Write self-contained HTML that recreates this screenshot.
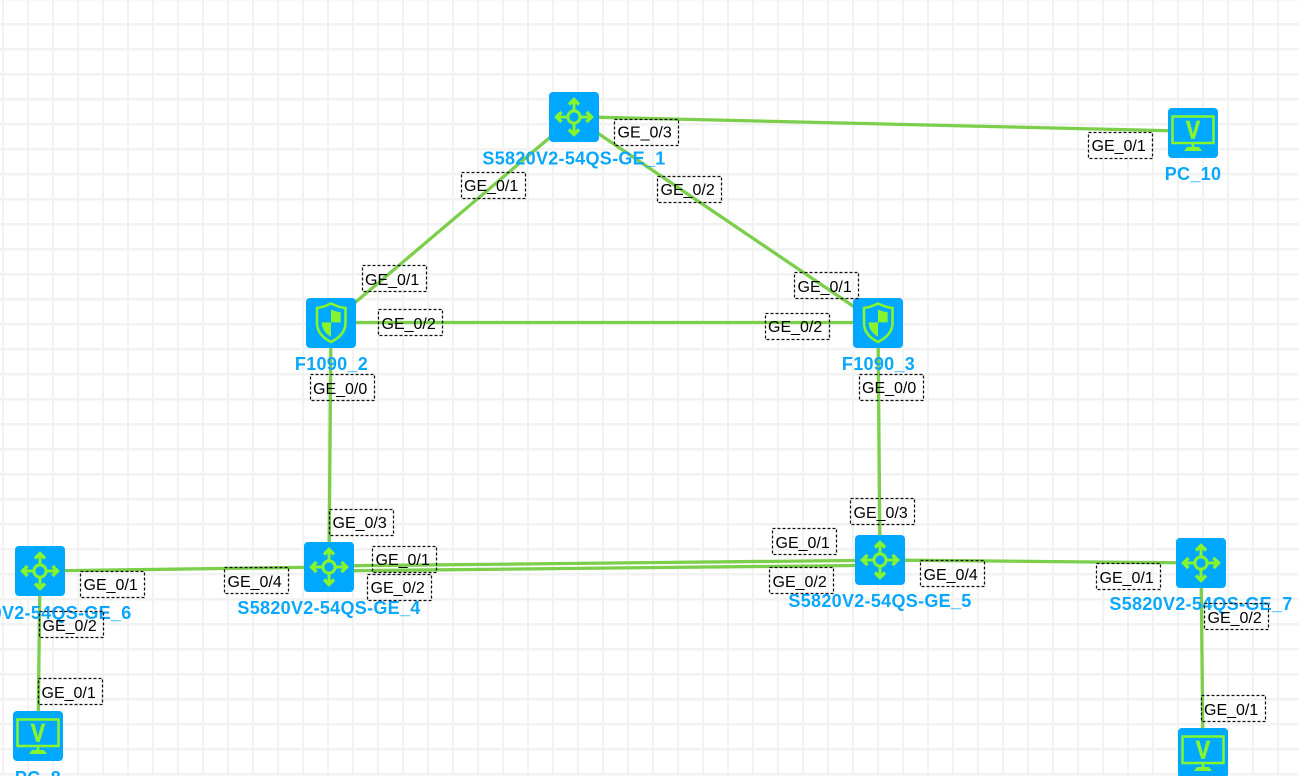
<!DOCTYPE html>
<html>
<head>
<meta charset="utf-8">
<style>
html,body{margin:0;padding:0;background:#fff;width:1299px;height:776px;overflow:hidden}
svg{display:block}
.l{stroke:#7ccf4a;stroke-width:3.3;fill:none}
.b{fill:none;stroke:#111;stroke-width:1.25;stroke-dasharray:3 2}
.t{font:16px "Liberation Sans",Arial,sans-serif;fill:#000}
.n{font:bold 18px "Liberation Sans",Arial,sans-serif;fill:#0aa7ff;letter-spacing:.3px;text-anchor:middle}
</style>
</head>
<body>
<svg width="1299" height="776" viewBox="0 0 1299 776" xmlns="http://www.w3.org/2000/svg">
<defs>
<pattern id="g" width="25" height="25" patternUnits="userSpaceOnUse">
<rect x="2" y="0" width="2" height="25" fill="#f2f2f2"/>
<rect x="0" y="23" width="25" height="2.6" fill="#f2f2f2"/>
<rect x="0" y="0" width="25" height=".6" fill="#f2f2f2"/>
</pattern>
<symbol id="sw" width="50" height="50" viewBox="0 0 50 50">
<rect width="50" height="50" rx="4" fill="#00a8ff"/>
<g fill="none" stroke="#86f52d" stroke-width="3">
<circle cx="25" cy="25" r="6.100"/>
<path d="M25 18V8M25 32V42M18 25H8M32 25H42"/>
<path stroke-width="3.400" stroke-linejoin="miter" d="M20 12.500L25 7.500L30 12.500M20 37.500L25 42.500L30 37.500M12.500 20L7.500 25L12.500 30M37.500 20L42.500 25L37.500 30"/>
</g>
</symbol>
<symbol id="fw" width="50" height="50" viewBox="0 0 50 50">
<rect width="50" height="50" rx="4" fill="#00a8ff"/>
<path d="M25 5.500C30 8 35 9.500 39.500 10V25C39.500 34 33 40 25 44C17 40 11 34 11 25V10C15 9.500 20 8 25 5.500Z" fill="none" stroke="#86f52d" stroke-width="2.600"/>
<path d="M25 11.500C28 12.800 31 13.800 34.700 14.300V24.400H25ZM15.700 24.400H25V38.700C20 36 15.700 31.500 15.700 24.400Z" fill="#86f52d"/>
</symbol>
<symbol id="pc" width="50" height="50" viewBox="0 0 50 50">
<rect width="50" height="50" rx="4" fill="#00a8ff"/>
<rect x="4.500" y="8.500" width="41" height="26.500" fill="none" stroke="#86f52d" stroke-width="2.500"/>
<path d="M23.700 35h2.600v4h-2.600zM19 39h12l3 4H16z" fill="#86f52d"/>
<text x="0" y="0" transform="translate(25 30.500) scale(.85 1)" text-anchor="middle" font-family="Liberation Sans,Arial,sans-serif" font-weight="bold" font-size="25" fill="#86f52d" stroke="#86f52d" stroke-width=".7">V</text>
</symbol>
</defs>
<rect width="1299" height="776" fill="#fff"/>
<rect width="1299" height="776" fill="url(#g)"/>

<g class="l">
<line x1="574" y1="116.700" x2="1193" y2="131.300"/>
<line x1="574" y1="117" x2="331" y2="323"/>
<line x1="574" y1="117" x2="878" y2="323"/>
<line x1="331" y1="322.500" x2="878" y2="322.500"/>
<line x1="331" y1="323" x2="329" y2="567"/>
<line x1="878" y1="323" x2="880" y2="560"/>
<line x1="40" y1="571" x2="329" y2="567"/>
<line x1="354" y1="565.700" x2="855" y2="560.500"/>
<line x1="354" y1="570.700" x2="855" y2="565.500"/>
<line x1="880" y1="560" x2="1201" y2="563"/>
<line x1="40" y1="571" x2="38" y2="736"/>
<line x1="1201" y1="563" x2="1203" y2="753"/>
</g>

<use href="#sw" x="549" y="92"/>
<use href="#fw" x="306" y="298"/>
<use href="#fw" x="853" y="298"/>
<use href="#pc" x="1168" y="108"/>
<use href="#sw" x="15" y="546"/>
<use href="#pc" x="13" y="711"/>
<use href="#sw" x="304" y="542"/>
<use href="#sw" x="855" y="535"/>
<use href="#sw" x="1176" y="538"/>
<use href="#pc" x="1178" y="728"/>

<text class="n" x="574" y="164.500">S5820V2-54QS-GE_1</text>
<text class="n" x="331.500" y="370">F1090_2</text>
<text class="n" x="878.500" y="370">F1090_3</text>
<text class="n" x="1193" y="180">PC_10</text>
<text class="n" x="40" y="619">S5820V2-54QS-GE_6</text>
<text class="n" x="38" y="784">PC_8</text>
<text class="n" x="329" y="614">S5820V2-54QS-GE_4</text>
<text class="n" x="880" y="607">S5820V2-54QS-GE_5</text>
<text class="n" x="1201" y="610">S5820V2-54QS-GE_7</text>

<g>
<rect class="b" x="614.500" y="119.500" width="64" height="26"/><text class="t" x="617.500" y="137.500">GE_0/3</text>
<rect class="b" x="461.500" y="172.500" width="64" height="26"/><text class="t" x="464" y="191">GE_0/1</text>
<rect class="b" x="657.500" y="176.500" width="64" height="26"/><text class="t" x="660.500" y="195">GE_0/2</text>
<rect class="b" x="1088.500" y="132.500" width="64" height="26"/><text class="t" x="1091.500" y="151">GE_0/1</text>
<rect class="b" x="362.500" y="265.500" width="64" height="26"/><text class="t" x="365" y="285">GE_0/1</text>
<rect class="b" x="378.500" y="309.500" width="64" height="26"/><text class="t" x="381.500" y="329">GE_0/2</text>
<rect class="b" x="310.500" y="374.500" width="64" height="26"/><text class="t" x="313" y="394">GE_0/0</text>
<rect class="b" x="794.500" y="272.500" width="64" height="26"/><text class="t" x="797.500" y="292">GE_0/1</text>
<rect class="b" x="765.500" y="313.500" width="64" height="26"/><text class="t" x="768" y="332">GE_0/2</text>
<rect class="b" x="859.500" y="374.500" width="64" height="26"/><text class="t" x="862" y="393">GE_0/0</text>
<rect class="b" x="80.500" y="571.500" width="64" height="26"/><text class="t" x="83.500" y="590">GE_0/1</text>
<rect class="b" x="39.500" y="611.500" width="64" height="26"/><text class="t" x="42.500" y="631">GE_0/2</text>
<rect class="b" x="38.500" y="678.500" width="64" height="26"/><text class="t" x="41.500" y="698">GE_0/1</text>
<rect class="b" x="329.500" y="509.500" width="64" height="26"/><text class="t" x="332.500" y="528">GE_0/3</text>
<rect class="b" x="372.500" y="546.500" width="64" height="26"/><text class="t" x="375.500" y="565">GE_0/1</text>
<rect class="b" x="367.500" y="574.500" width="64" height="26"/><text class="t" x="370.500" y="593">GE_0/2</text>
<rect class="b" x="224.500" y="567.500" width="64" height="26"/><text class="t" x="227.500" y="587">GE_0/4</text>
<rect class="b" x="850.500" y="498.500" width="64" height="26"/><text class="t" x="853.500" y="518">GE_0/3</text>
<rect class="b" x="772.500" y="528.500" width="64" height="26"/><text class="t" x="775.500" y="548">GE_0/1</text>
<rect class="b" x="769.500" y="567.500" width="64" height="26"/><text class="t" x="772.500" y="587">GE_0/2</text>
<rect class="b" x="920.500" y="560.500" width="64" height="26"/><text class="t" x="923.500" y="580">GE_0/4</text>
<rect class="b" x="1096.500" y="563.500" width="64" height="26"/><text class="t" x="1099.500" y="583">GE_0/1</text>
<rect class="b" x="1204.500" y="603.500" width="64" height="26"/><text class="t" x="1207.500" y="623">GE_0/2</text>
<rect class="b" x="1201.500" y="695.500" width="64" height="26"/><text class="t" x="1204" y="715">GE_0/1</text>
</g>
</svg>
</body>
</html>
